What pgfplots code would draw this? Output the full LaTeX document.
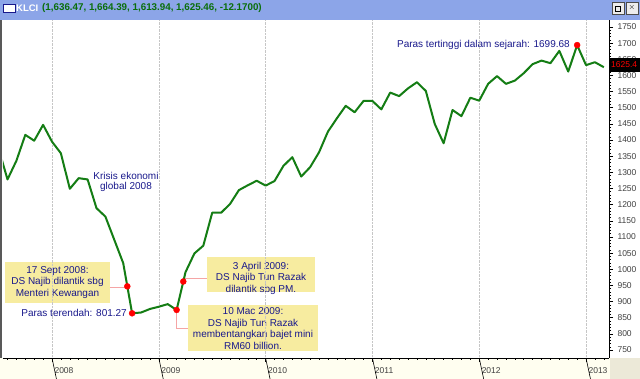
\documentclass[border=0pt]{standalone}
\usepackage{pgfplots}
\pgfplotsset{compat=1.18}
\usepackage{fontspec}
\setmainfont{Liberation Sans}
\definecolor{lgreen}{RGB}{20,125,20}
\definecolor{navy}{RGB}{25,25,140}
\definecolor{boxy}{RGB}{247,236,160}
\definecolor{pinkl}{RGB}{245,165,165}
\definecolor{titleblue}{RGB}{140,165,232}
\definecolor{tgreen}{RGB}{10,110,10}
\definecolor{beige}{RGB}{236,233,216}
\begin{document}
\begin{tikzpicture}[x=1pt,y=1pt]
\useasboundingbox (0,0) rectangle (640,379);
\fill[white] (0,0) rectangle (640,379);
\fill[white!94!yellow] (0,0) rectangle (640,21);
\fill[beige] (610,0) rectangle (640,21);
% title bar
\fill[titleblue] (0,359) rectangle (640,379);
\draw[fill=white, draw=navy, line width=0.8pt] (3,367) rectangle (15,375);
\node[anchor=west, text=white, font=\fontsize{9.5}{10}\selectfont\bfseries, inner sep=0] at (16,371) {KLCI};
\node[anchor=west, text=tgreen, font=\fontsize{9.8}{10}\selectfont\bfseries, inner sep=0] at (42,371) {(1,636.47, 1,664.39, 1,613.94, 1,625.46, -12.1700)};
\draw[fill=gray!15, draw=gray!60!black] (612,365) rectangle (624,377);
\draw[fill=gray!15, draw=gray!60!black] (626,365) rectangle (638,377);
\node[font=\fontsize{8}{8}\selectfont\bfseries, inner sep=0] at (632,371) {$\times$};
\draw[line width=0.7pt] (615,368) rectangle (620,373);
% left border
\draw[gray!70!black, line width=2pt] (1,21) -- (1,359);
% annotation boxes and connectors
\fill[boxy] (5,76) rectangle (110,117);
\node[align=center, text=navy, font=\fontsize{10}{11.5}\selectfont, inner sep=0] at (57.5,96.5) {17 Sept 2008:\\DS Najib dilantik sbg\\Menteri Kewangan};
\draw[pinkl, line width=1pt] (110,91) -- (127,91);
\fill[boxy] (207,87) rectangle (315,122);
\node[align=center, text=navy, font=\fontsize{10}{11.5}\selectfont, inner sep=0] at (261,101) {3 April 2009:\\DS Najib Tun Razak\\dilantik sbg PM.};
\draw[pinkl, line width=1pt] (183,100.7) -- (207,100.7);
\fill[boxy] (188,28) rectangle (318,74);
\node[align=center, text=navy, font=\fontsize{10}{11.5}\selectfont, inner sep=0] at (253,50.5) {10 Mac 2009:\\DS Najib Tun Razak\\membentangkan bajet mini\\RM60 billion.};
\draw[pinkl, line width=1pt] (176,69) -- (176,50.7) -- (188,50.7);
\node[anchor=east, text=navy, font=\fontsize{10}{11.5}\selectfont, inner sep=0] at (127,66) {Paras terendah: 801.27};
\node[align=center, text=navy, font=\fontsize{10}{10.5}\selectfont, inner sep=0] at (126,197) {Krisis ekonomi\\global 2008};
\node[anchor=east, text=navy, font=\fontsize{10}{11.5}\selectfont, inner sep=0] at (570,334) {Paras tertinggi dalam sejarah: 1699.68};
\begin{axis}[
  at={(3pt,21pt)}, anchor=south west, scale only axis,
  width=606pt, height=338pt,
  xmin=-5.506, xmax=62.58, ymin=725.2, ymax=1771.7,
  axis x line*=bottom, axis y line*=right,
  axis line style={black, line width=0.6pt},
  tick align=outside,
  ytick={750,800,...,1750}, minor y tick num=4,
  major tick length=4pt, minor tick length=2pt,
  tick style={black, line width=0.5pt},
  /pgf/number format/1000 sep={},
  /pgf/number format/assume math mode=true,
  yticklabel style={font=\fontsize{8.5}{10}\selectfont, text=black!75, xshift=1pt},
  xtick={0,12,24,36,48,60},
  xticklabels={2008,2009,2010,2011,2012,2013},
  minor xtick={-5,-4,...,62},
  xticklabel style={font=\fontsize{8.5}{10}\selectfont, text=black!75, anchor=north west, xshift=-1pt, yshift=-2pt},
  xmajorgrids, grid style={densely dotted, gray!45, line width=0.6pt},
  clip mode=individual,
]
\addplot[lgreen, line width=2pt, line join=round] coordinates {
(-6,1373.7) (-5,1278) (-4,1336) (-3,1416) (-2,1398) (-1,1447)
(0,1395) (1,1359) (2,1249) (3,1282) (4,1278) (5,1189) (6,1163) (7,1091) (8,1019) (9,863.6) (10,866) (11,877)
(12,884) (13,892) (14,874) (15,991) (16,1049) (17,1073) (18,1175) (19,1175) (20,1202) (21,1245) (22,1260) (23,1274)
(24,1259) (25,1273) (26,1320) (27,1347) (28,1287) (29,1316) (30,1362) (31,1426) (32,1467) (33,1506) (34,1486) (35,1521)
(36,1521) (37,1495) (38,1547) (39,1536) (40,1560) (41,1579) (42,1552) (43,1450) (44,1390) (45,1493) (46,1474) (47,1531)
(48,1522) (49,1574) (50,1598) (51,1574) (52,1584) (53,1607) (54,1635) (55,1646) (56,1638) (57,1676) (58,1612) (59,1694)
(60,1632) (61,1641) (62,1625.5)
};
\addplot[only marks, mark=*, mark size=3pt, red, mark options={draw=red, fill=red}] coordinates {
(8.46,947) (9,863.6) (14,874) (14.75,962) (59,1694)
};
\foreach \yy in {0,12,24,36,48,60} {
  \edef\tmp{\noexpand\draw[black, line width=0.6pt] (axis cs:\yy,725.2) -- ++(0,-18pt);}
  \tmp
}
\end{axis}
\fill[black] (610,307) rectangle (640,321);
\node[anchor=west, text=red, font=\fontsize{8.5}{10}\selectfont, inner sep=0] at (611,314) {1625.4};
\end{tikzpicture}
\end{document}
